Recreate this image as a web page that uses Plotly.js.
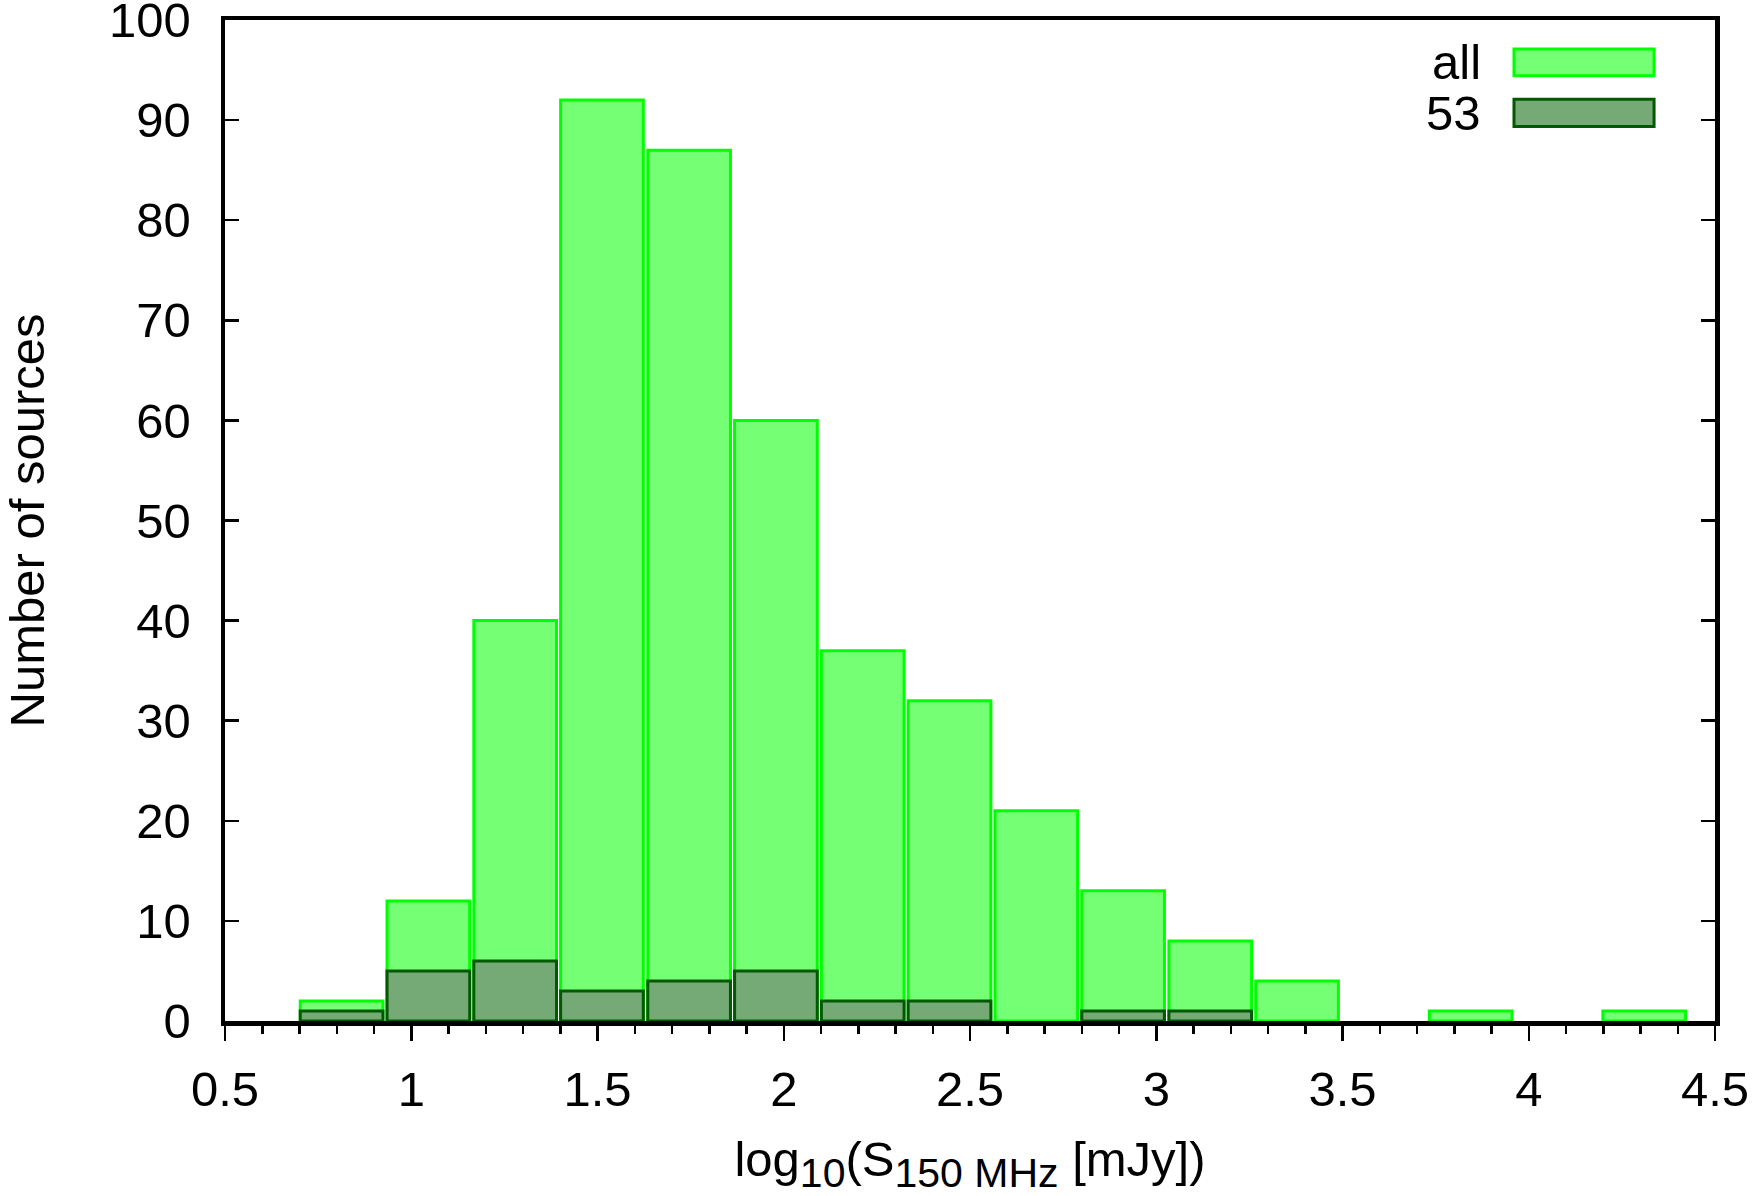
<!DOCTYPE html>
<html>
<head>
<meta charset="utf-8">
<script src="https://cdn.plot.ly/plotly-3.0.1.min.js"></script>
<style>html,body{margin:0;padding:0;background:#fff;}#chart{width:1760px;height:1196px;}</style>
</head>
<body>
<div id="chart"></div>
<script>
// Bin centres of log10(S_150MHz [mJy])
const binCenters = [0.813, 1.046, 1.279, 1.512, 1.746, 1.979, 2.212, 2.445, 2.678, 2.911, 3.145, 3.378, 3.611, 3.844, 4.077, 4.310];
// Counts, all sources
const countsAll = [2, 12, 40, 92, 87, 60, 37, 32, 21, 13, 8, 4, 0, 1, 0, 1];
// Counts, subsample "53"
const counts53 = [1, 5, 6, 3, 4, 5, 2, 2, 0, 1, 1, 0, 0, 0, 0, 0];
const seriesNames = ['all', '53'];
const xTickVals = [0.5, 1, 1.5, 2, 2.5, 3, 3.5, 4, 4.5];
const xTickText = ['0.5', '1', '1.5', '2', '2.5', '3', '3.5', '4', '4.5'];
const yTickVals = [0, 10, 20, 30, 40, 50, 60, 70, 80, 90, 100];

const FONT = 'Liberation Sans, Arial, Helvetica, sans-serif';
const lightFill = 'rgb(116,255,116)';
const lightLine = 'rgb(0,255,0)';
const darkFill = 'rgb(117,169,117)';
const darkLine = 'rgb(0,90,0)';

// empty bins are not drawn at all (no zero-height outline)
const hideZero = v => (v === 0 ? null : v);

const traces = [
  {type: 'bar', name: seriesNames[0], x: binCenters, y: countsAll.map(hideZero), width: 0.222,
   marker: {color: lightFill, line: {color: lightLine, width: 3}}, showlegend: false, hoverinfo: 'skip'},
  {type: 'bar', name: seriesNames[1], x: binCenters, y: counts53.map(hideZero), width: 0.222,
   marker: {color: darkFill, line: {color: darkLine, width: 3}}, showlegend: false, hoverinfo: 'skip'}
];

const layout = {
  width: 1760, height: 1196,
  margin: {l: 224.5, r: 45, t: 20, b: 174.5},
  paper_bgcolor: '#fff', plot_bgcolor: '#fff',
  barmode: 'overlay',
  bargap: 0,
  font: {family: FONT, size: 49, color: '#000'},
  xaxis: {
    range: [0.5, 4.5], tickmode: 'array', tickvals: xTickVals, ticktext: xTickText,
    ticks: 'outside', ticklen: 15, tickwidth: 2.5, tickcolor: '#000',
    minor: {dtick: 0.1, tick0: 0.5, ticks: 'outside', ticklen: 8, tickwidth: 2.5, tickcolor: '#000', showgrid: false},
    showline: true, linewidth: 4.5, linecolor: '#000', mirror: true,
    showgrid: false, zeroline: false, ticklabelstandoff: 7, ticklabeloverflow: 'allow',
    tickfont: {family: FONT, size: 49, color: '#000'},
    title: {text: 'log<sub><span style="font-size:41px">10</span></sub>(S<sub><span style="font-size:41px">150 MHz</span></sub> [mJy])',
            font: {family: FONT, size: 49, color: '#000'}, standoff: 28}
  },
  yaxis: {
    range: [0, 100], tickmode: 'array', tickvals: yTickVals,
    ticks: 'inside', ticklen: 14, tickwidth: 2.5, tickcolor: '#000',
    showline: true, linewidth: 4.5, linecolor: '#000', mirror: 'ticks',
    showgrid: false, zeroline: false, ticklabelstandoff: 20, ticklabeloverflow: 'allow',
    tickfont: {family: FONT, size: 49, color: '#000'},
    title: {text: 'Number of sources', font: {family: FONT, size: 49, color: '#000'}, standoff: 87}
  },
  shapes: [
    {type: 'rect', xref: 'paper', yref: 'paper', x0: 0.8651, x1: 0.9591, y0: 0.9444, y1: 0.9710,
     fillcolor: lightFill, line: {color: lightLine, width: 3}},
    {type: 'rect', xref: 'paper', yref: 'paper', x0: 0.8651, x1: 0.9591, y0: 0.8935, y1: 0.9208,
     fillcolor: darkFill, line: {color: darkLine, width: 3}}
  ],
  annotations: [
    {xref: 'paper', yref: 'paper', x: 0.8443, y: 0.9581, xanchor: 'right', yanchor: 'middle', showarrow: false,
     text: seriesNames[0], font: {family: FONT, size: 49, color: '#000'}},
    {xref: 'paper', yref: 'paper', x: 0.8443, y: 0.9071, xanchor: 'right', yanchor: 'middle', showarrow: false,
     text: seriesNames[1], font: {family: FONT, size: 49, color: '#000'}}
  ]
};

Plotly.newPlot('chart', traces, layout, {staticPlot: true, displayModeBar: false});
</script>
</body>
</html>
